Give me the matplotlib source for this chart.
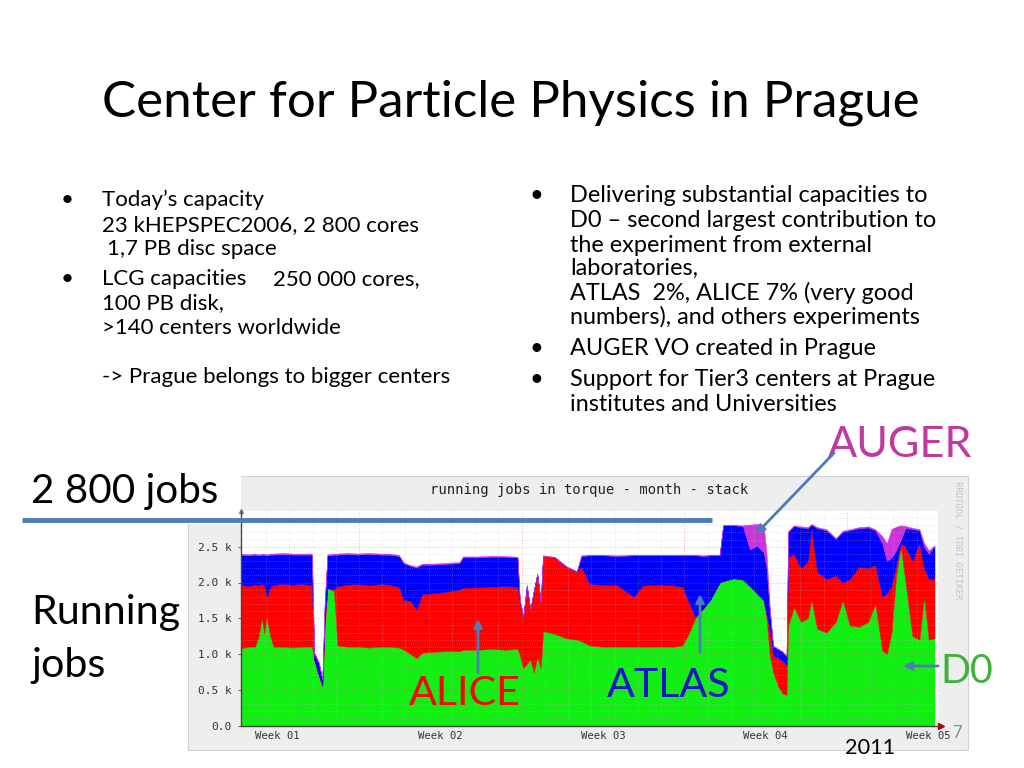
import matplotlib
matplotlib.use("Agg")
import matplotlib.pyplot as plt
from matplotlib.patches import Rectangle
import numpy as np

# values: time in days from the left edge, running jobs per VO
days = [0.0, 0.3, 0.6, 0.75, 0.9, 1.0, 1.1, 1.25, 1.4, 1.8, 2.2, 2.6, 3.05, 3.15, 3.35, 3.5, 3.6, 3.72, 4.0,
        4.15, 4.6, 5.0, 5.5, 6.0, 6.4, 6.8, 7.0, 7.3, 7.55, 7.8, 8.3, 8.8, 9.4, 9.55, 10.2, 10.8, 11.4, 11.9,
        12.0, 12.15, 12.3, 12.45, 12.6, 12.75, 12.9, 13.0, 13.5, 14.0, 14.45, 14.65, 15.0, 15.6, 16.2, 16.9,
        17.3, 18.0, 18.6, 19.0, 19.3, 19.55, 19.9, 20.2, 20.6, 20.75, 21.2, 21.6, 21.9, 22.2, 22.5, 22.62,
        22.75, 22.9, 23.1, 23.3, 23.48, 23.55, 23.8, 24.1, 24.4, 24.55, 24.8, 25.2, 25.6, 25.9, 26.2, 26.6,
        27.0, 27.3, 27.6, 27.8, 28.0, 28.2, 28.4, 28.6, 28.9, 29.2, 29.4, 29.6, 29.85]
d0 = [1080, 1100, 1100, 1240, 1500, 1280, 1520, 1260, 1100, 1100, 1090, 1100, 1100, 920, 700, 550, 1360, 1920, 1880,
      1120, 1100, 1100, 1090, 1100, 1100, 1090, 1060, 1000, 940, 1020, 1030, 1040, 1040, 1060, 1060, 1070, 1060, 1070,
      980, 800, 860, 920, 740, 960, 800, 1320, 1280, 1220, 1200, 1180, 1120, 1100, 1100, 1100,
      1100, 1100, 1100, 1120, 1300, 1500, 1640, 1760, 2000, 2020, 2060, 2040, 1950, 1850, 1750, 1500,
      1000, 750, 560, 450, 430, 1400, 1650, 1450, 1500, 1750, 1350, 1300, 1450, 1750, 1400, 1380,
      1450, 1700, 1050, 1000, 1300, 2100, 2500, 2000, 1250, 1200, 1800, 1200, 1220]
alice = [890, 850, 870, 720, 480, 680, 280, 670, 870, 880, 880, 880, 860, 0, 0, 10, 90, 0, 20,
         830, 870, 880, 870, 880, 870, 850, 700, 740, 680, 820, 820, 830, 860, 870, 870, 870, 890, 870,
         740, 720, 1090, 700, 1140, 1160, 920, 1050, 1070, 1000, 950, 1040, 860, 870, 860, 700,
         860, 870, 860, 820, 400, 20, 0, 0, 0, 0, 0, 0, 0, 0, 0, 50,
         350, 230, 390, 450, 420, 950, 750, 750, 800, 1000, 800, 750, 650, 250, 650, 840,
         750, 550, 750, 850, 650, 150, 50, 500, 1050, 1350, 400, 850, 830]
atlas = [420, 430, 420, 420, 410, 430, 580, 460, 420, 420, 420, 410, 430, 90, 170, 80, 240, 460, 490,
         440, 430, 410, 440, 410, 420, 430, 510, 490, 590, 410, 400, 390, 370, 420, 420, 420, 410, 410,
         30, 0, 10, 0, 0, 0, 0, 0, 0, 0, 0, 150, 400, 410, 410, 580,
         420, 410, 420, 440, 680, 860, 730, 620, 380, 780, 740, 750, 510, 670, 670, 650,
         280, 130, 120, 130, 120, 360, 390, 570, 460, 60, 610, 680, 510, 710, 680, 540,
         570, 480, 750, 450, 400, 200, 50, 260, 450, 180, 300, 350, 460]
auger = [15, 15, 15, 15, 15, 15, 15, 15, 15, 15, 15, 15, 15, 10, 15, 10, 10, 15, 15,
         15, 15, 15, 15, 15, 15, 15, 10, 15, 15, 15, 15, 15, 15, 15, 15, 15, 10, 10,
         5, 5, 5, 5, 5, 5, 5, 10, 10, 10, 10, 10, 10, 10, 10, 10,
         10, 10, 10, 10, 10, 10, 10, 10, 10, 10, 10, 10, 350, 300, 380, 200,
         60, 10, 10, 10, 5, 10, 10, 15, 15, 10, 15, 15, 10, 15, 15, 15,
         15, 15, 100, 250, 400, 330, 200, 30, 15, 15, 50, 50, 10]

week_labels = ["Week 01", "Week 02", "Week 03", "Week 04", "Week 05"]
week_bounds = [5.08, 12.08, 19.08, 26.08]
ytick_vals = [0, 500, 1000, 1500, 2000, 2500]
ytick_labels = ["0.0", "0.5 k", "1.0 k", "1.5 k", "2.0 k", "2.5 k"]

FONT = "Lato"
MONO = "DejaVu Sans Mono"
ARROW = "#4A7EBB"

fig = plt.figure(figsize=(10.24, 7.68), dpi=100)

# background layer in pixel coordinates
bg = fig.add_axes([0, 0, 1, 1])
bg.set_xlim(0, 1024)
bg.set_ylim(768, 0)
bg.axis("off")
bg.add_patch(Rectangle((188, 476), 780, 274, fc="#EEEEEE", ec="#D2D2D2", lw=0.8))
bg.add_patch(Rectangle((0, 430), 241, 94, fc="white", ec="none"))
bg.text(589, 490, "running jobs in torque - month - stack", family=MONO, fontsize=10,
        ha="center", va="center", color="#222222")
bg.text(958, 540, "RRDTOOL / TOBI OETIKER", family=MONO, fontsize=6.5, rotation=270,
        ha="center", va="center", color="#C4C4C4")

# the rrd chart itself
ax = fig.add_axes([241 / 1024, 1 - 725.5 / 768, 697 / 1024, 214.5 / 768])
ax.stackplot(days, d0, alice, atlas, auger,
             colors=["#11EE11", "#FF0000", "#0000FF", "#CC33DD"], lw=0.3, edgecolor="face")
for y in range(100, 3000, 100):
    if y % 500:
        ax.axhline(y, color="#BBBBBB", lw=0.5, ls=(0, (1, 2)), alpha=0.6)
    else:
        ax.axhline(y, color="#E06060", lw=0.6, ls=(0, (1, 2)), alpha=0.6)
for d in np.arange(1.08, 30, 1.0):
    if any(abs(d - w) < 0.01 for w in week_bounds):
        ax.axvline(d, color="#E06060", lw=0.6, ls=(0, (1, 2)), alpha=0.6)
    else:
        ax.axvline(d, color="#BBBBBB", lw=0.5, ls=(0, (1, 2)), alpha=0.6)
ax.set_xlim(0, 30)
ax.set_ylim(0, 3000)
ax.set_facecolor("white")
for s in ["top", "right"]:
    ax.spines[s].set_visible(False)
for s in ["left", "bottom"]:
    ax.spines[s].set_color("#444444")
    ax.spines[s].set_linewidth(1)
ax.set_yticks(ytick_vals)
ax.set_yticklabels(ytick_labels, family=MONO, fontsize=8, color="#333333")
ax.set_xticks([w - 3.5 for w in week_bounds] + [week_bounds[-1] + 3.5])
ax.set_xticklabels(week_labels, family=MONO, fontsize=7.7, color="#333333")
ax.tick_params(axis="y", length=2, width=0.6, color="#444444", pad=5)
ax.tick_params(axis="x", length=0, pad=4)
ax.plot(1.005, 0, ">", transform=ax.transAxes, color="#B00000", ms=4, clip_on=False)
ax.plot(0, 1.0, "^", transform=ax.transAxes, color="#888888", ms=3, clip_on=False)

# slide text and annotations on top
over = fig.add_axes([0, 0, 1, 1])
over.set_xlim(0, 1024)
over.set_ylim(768, 0)
over.axis("off")
over.patch.set_alpha(0)

fig.canvas.draw()
rend = fig.canvas.get_renderer()


def fit_size(txt, width):
    t = over.text(0, 0, txt, fontsize=20, family=FONT)
    w = t.get_window_extent(rend).width
    t.remove()
    return 20 * width / w


def put(x, y, txt, size, color="black", ha="left"):
    over.text(x, y, txt, fontsize=size, family=FONT, color=color, ha=ha, va="baseline")


put(102, 117, "Center for Particle Physics in Prague",
    fit_size("Center for Particle Physics in Prague", 820))

fs_l = fit_size("23 kHEPSPEC2006, 2 800 cores", 317)
left_lines = [(102, 206, "Today\u2019s capacity"),
              (102, 231, "23 kHEPSPEC2006, 2 800 cores"),
              (107, 255, "1,7 PB disc space"),
              (102, 285, "LCG capacities"),
              (273, 285, "250 000 cores,"),
              (102, 309, "100 PB disk,"),
              (102, 334, ">140 centers worldwide"),
              (102, 383, "-> Prague belongs to bigger centers")]
for x, y, s in left_lines:
    put(x, y, s, fs_l)
for y in [206, 285]:
    put(67, y, "\u2022", fs_l, ha="center")

fs_r = fit_size("Delivering substantial capacities to", 358)
right_lines = [(202, "Delivering substantial capacities to"),
               (227, "D0 \u2013 second largest contribution to"),
               (252, "the experiment from external"),
               (275, "laboratories,"),
               (300, "ATLAS  2%, ALICE 7% (very good"),
               (324, "numbers), and others experiments"),
               (355, "AUGER VO created in Prague"),
               (386, "Support for Tier3 centers at Prague"),
               (411, "institutes and Universities")]
for y, s in right_lines:
    put(570, y, s, fs_r)
for y in [202, 355, 386]:
    put(536, y, "\u2022", fs_r, ha="center")

fs_big = fit_size("2 800 jobs", 187)
put(31, 503, "2 800 jobs", fs_big)
fs_run = fit_size("Running", 150)
put(31, 624, "Running", fs_run)
put(31, 677, "jobs", fs_run)

over.plot([22, 712], [520, 520], color=ARROW, lw=3.5, solid_capstyle="butt")

put(828, 457, "AUGER", fit_size("AUGER", 144), color="#C0399E")
put(409, 705, "ALICE", fit_size("ALICE", 112), color="#FF0000")
put(607, 697, "ATLAS", fit_size("ATLAS", 123), color="#1414C8")
put(940, 683, "D0", fit_size("D0", 53), color="#3CB43C")
put(845, 754, "2011", fit_size("2011", 50))
over.text(957, 733, "7", fontsize=12, family=FONT, color="#8C8C8C", ha="center", va="center")

arrows = [((834, 453), (756, 534)),
          ((478, 673), (478, 619)),
          ((700, 652), (700, 594)),
          ((938, 666), (903, 666))]
for tail, tip in arrows:
    over.annotate("", xy=tip, xytext=tail,
                  arrowprops=dict(arrowstyle="-|>", color=ARROW, lw=2, mutation_scale=12,
                                  shrinkA=0, shrinkB=0))

fig.savefig("out.png", dpi=100)
